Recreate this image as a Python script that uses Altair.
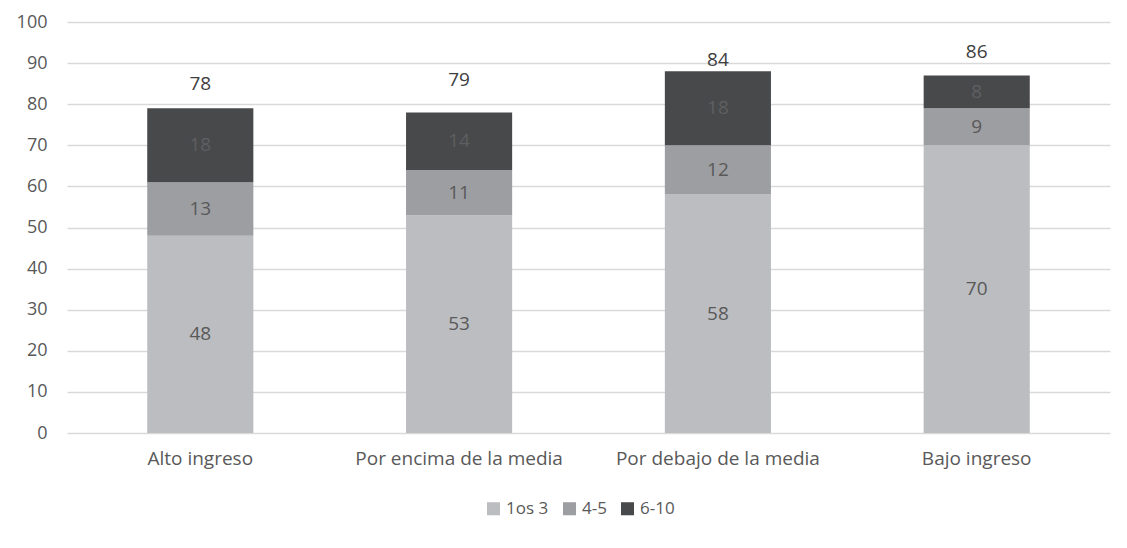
import altair as alt
import pandas as pd

categories = ["Alto ingreso", "Por encima de la media", "Por debajo de la media", "Bajo ingreso"]
series = ["1os 3", "4-5", "6-10"]
top3 = [48, 53, 58, 70]
mid = [13, 11, 12, 9]
rest = [18, 14, 18, 8]
totals = [78, 79, 84, 86]
colors = ["#BCBDC0", "#9D9EA1", "#48494B"]
label_colors = ["#595959", "#595959", "#5E5F61"]

rows = []
for i, c in enumerate(categories):
    for j, (s, vals) in enumerate(zip(series, [top3, mid, rest])):
        rows.append({"cat": c, "serie": s, "order": j, "value": vals[i]})
df = pd.DataFrame(rows)
tot = pd.DataFrame({"cat": categories, "total": totals})

FONT = "Open Sans"
xenc = alt.X("cat:N", sort=categories, title=None,
             scale=alt.Scale(paddingInner=0.59, paddingOuter=0.31),
             axis=alt.Axis(labelAngle=0, labelFontSize=19, labelColor="#595959", grid=False,
                           labelLimit=400, labelFont=FONT, domain=False, ticks=False,
                           labelPadding=16))

bars = alt.Chart(df).mark_bar().encode(
    x=xenc,
    y=alt.Y("value:Q", stack="zero", title=None,
            scale=alt.Scale(domain=[0, 100]),
            axis=alt.Axis(values=list(range(0, 101, 10)), labelFontSize=18, labelColor="#595959",
                          labelFont=FONT, domain=False, ticks=False, gridColor="#D9D9D9",
                          gridWidth=1.3, labelPadding=20)),
    color=alt.Color("serie:N", sort=series, title=None,
                    scale=alt.Scale(domain=series, range=colors),
                    legend=alt.Legend(orient="none", legendX=418, legendY=478, direction="horizontal",
                                      symbolType="square", symbolSize=170, symbolStrokeWidth=0,
                                      labelFontSize=17, labelColor="#595959", labelFont=FONT,
                                      columnPadding=12, labelOffset=4)),
    order=alt.Order("order:Q"),
)

seg_labels = alt.Chart(df).transform_stack(
    stack="value", groupby=["cat"], as_=["v0", "v1"], sort=[alt.SortField("order")]
).transform_calculate(
    mid="(datum.v0 + datum.v1) / 2"
).mark_text(fontSize=19, font=FONT).encode(
    x=alt.X("cat:N", sort=categories),
    y=alt.Y("mid:Q"),
    text="value:Q",
    color=alt.Color("serie:N", scale=alt.Scale(domain=series, range=label_colors), legend=None),
)

tot_labels = alt.Chart(tot).mark_text(fontSize=19, font=FONT, color="#404040", dy=-28).encode(
    x=alt.X("cat:N", sort=categories),
    y=alt.Y("total:Q"),
    text="total:Q",
)

chart = alt.layer(bars, seg_labels, tot_labels).resolve_scale(color="independent").properties(
    width=1043, height=411,
    autosize=alt.AutoSizeParams(type="none"),
    padding={"left": 67, "top": 22, "right": 17, "bottom": 115},
).configure(background="white").configure_view(strokeWidth=0, stroke="transparent").configure_axis(
    domain=False, ticks=False
)

chart.save("out.html", embed_options={"renderer": "svg", "actions": False})
